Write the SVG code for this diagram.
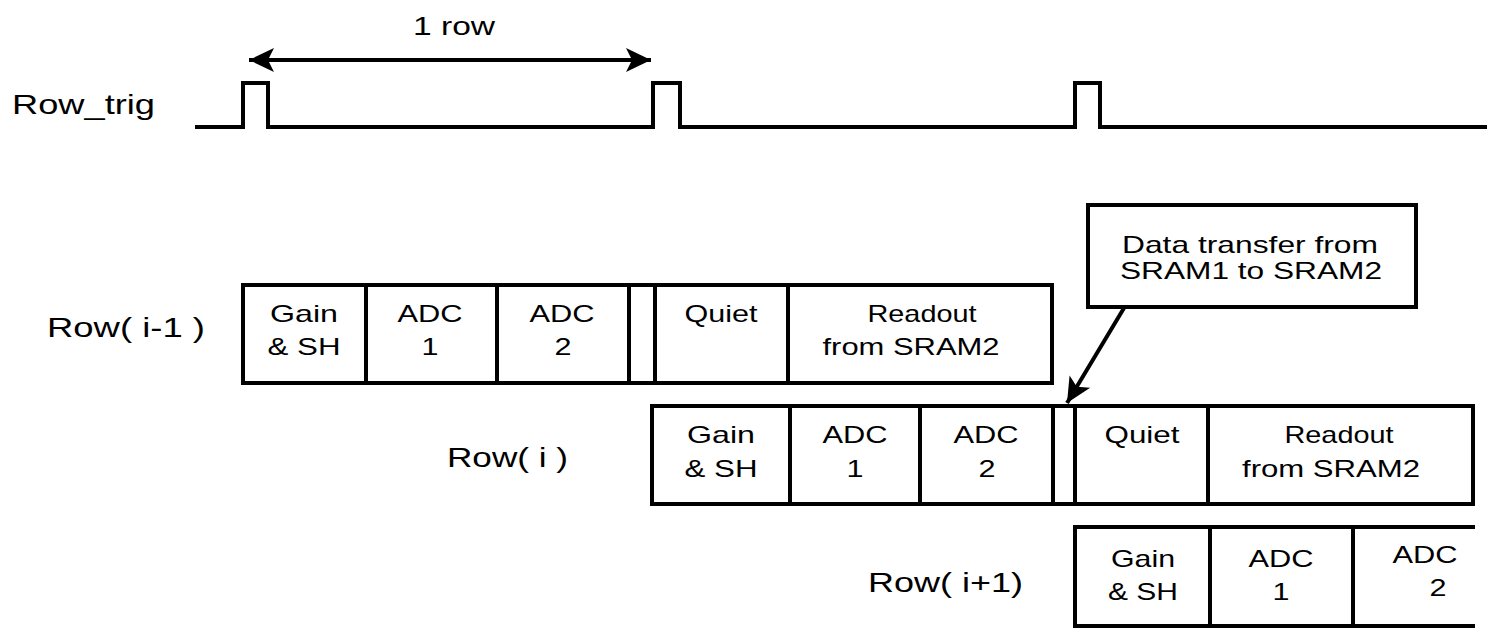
<svg xmlns="http://www.w3.org/2000/svg" width="1495" height="630" viewBox="0 0 1495 630">
<style>
text{font-family:"Liberation Sans",Arial,sans-serif;fill:#000}
.lbl{font-size:28px}
.c{font-size:24px;text-anchor:middle}
.box{fill:#fff;stroke:#000;stroke-width:4;stroke-linejoin:miter}
.ln{fill:none;stroke:#000;stroke-width:4;stroke-linejoin:miter;stroke-linecap:square}
.conn{fill:none;stroke:#000;stroke-width:4}
</style>
<defs>
<marker id="ah" viewBox="0 0 26 26" refX="25" refY="13" markerWidth="26" markerHeight="26" markerUnits="userSpaceOnUse" orient="auto-start-reverse">
<path d="M25,13 L0,1 L6,13 L0,25 Z" fill="#000"/>
</marker>
</defs>
<rect width="1495" height="630" fill="#fff"/>

<g id="row_trig">
<text class="lbl" x="12" y="114" textLength="143" lengthAdjust="spacingAndGlyphs">Row_trig</text>
<path class="ln" d="M197,127 H243 V83 H268 V127 H653 V83 H680 V127 H1075 V83 H1100 V127 H1485"/>
<text x="413" y="35" font-size="25" textLength="82" lengthAdjust="spacingAndGlyphs">1 row</text>
</g>

<g id="row_im1">
<text class="lbl" x="47" y="337" textLength="158" lengthAdjust="spacingAndGlyphs">Row( i-1 )</text>
<rect class="box" x="243" y="285" width="809" height="98"/>
<path class="ln" d="M366,285 V383 M497,285 V383 M629,285 V383 M655,285 V383 M788,285 V383"/>
<text class="c" x="304" y="322" textLength="68" lengthAdjust="spacingAndGlyphs">Gain</text>
<text class="c" x="304" y="355" textLength="73" lengthAdjust="spacingAndGlyphs">&amp; SH</text>
<text class="c" x="430" y="322" textLength="65" lengthAdjust="spacingAndGlyphs">ADC</text>
<text class="c" x="430" y="355" textLength="17" lengthAdjust="spacingAndGlyphs">1</text>
<text class="c" x="562" y="322" textLength="65" lengthAdjust="spacingAndGlyphs">ADC</text>
<text class="c" x="563" y="355" textLength="17" lengthAdjust="spacingAndGlyphs">2</text>
<text class="c" x="721" y="322" textLength="73" lengthAdjust="spacingAndGlyphs">Quiet</text>
<text class="c" x="922" y="322" textLength="109" lengthAdjust="spacingAndGlyphs">Readout</text>
<text class="c" x="911" y="355" textLength="177" lengthAdjust="spacingAndGlyphs">from SRAM2</text>
</g>

<g id="row_i">
<text class="lbl" x="447" y="467" textLength="121" lengthAdjust="spacingAndGlyphs">Row( i )</text>
<rect class="box" x="652" y="406" width="821" height="98"/>
<path class="ln" d="M790,406 V504 M920,406 V504 M1053,406 V504 M1075,406 V504 M1208,406 V504"/>
<text class="c" x="721" y="443" textLength="68" lengthAdjust="spacingAndGlyphs">Gain</text>
<text class="c" x="721" y="477" textLength="73" lengthAdjust="spacingAndGlyphs">&amp; SH</text>
<text class="c" x="855" y="443" textLength="65" lengthAdjust="spacingAndGlyphs">ADC</text>
<text class="c" x="855" y="477" textLength="17" lengthAdjust="spacingAndGlyphs">1</text>
<text class="c" x="986" y="443" textLength="65" lengthAdjust="spacingAndGlyphs">ADC</text>
<text class="c" x="987" y="477" textLength="17" lengthAdjust="spacingAndGlyphs">2</text>
<text class="c" x="1142" y="443" textLength="75" lengthAdjust="spacingAndGlyphs">Quiet</text>
<text class="c" x="1339" y="443" textLength="109" lengthAdjust="spacingAndGlyphs">Readout</text>
<text class="c" x="1331" y="477" textLength="178" lengthAdjust="spacingAndGlyphs">from SRAM2</text>
</g>

<g id="row_ip1">
<text class="lbl" x="868" y="592" textLength="155" lengthAdjust="spacingAndGlyphs">Row( i+1)</text>
<path class="ln" d="M1473,527 H1075 V626 H1473"/>
<path class="ln" d="M1210,527 V626 M1353,527 V626"/>
<text class="c" x="1143" y="567" textLength="64" lengthAdjust="spacingAndGlyphs">Gain</text>
<text class="c" x="1143" y="600" textLength="70" lengthAdjust="spacingAndGlyphs">&amp; SH</text>
<text class="c" x="1281" y="567" textLength="65" lengthAdjust="spacingAndGlyphs">ADC</text>
<text class="c" x="1281" y="600" textLength="17" lengthAdjust="spacingAndGlyphs">1</text>
<text class="c" x="1425" y="563" textLength="65" lengthAdjust="spacingAndGlyphs">ADC</text>
<text class="c" x="1438" y="596" textLength="17" lengthAdjust="spacingAndGlyphs">2</text>
</g>

<g id="callout">
<rect class="box" x="1088" y="205" width="328" height="102"/>
<text class="c" x="1250" y="253" font-size="25" textLength="256" lengthAdjust="spacingAndGlyphs">Data transfer from</text>
<text class="c" x="1251" y="279" font-size="25" textLength="262" lengthAdjust="spacingAndGlyphs">SRAM1 to SRAM2</text>
</g>

<g id="connectors">
<line class="conn" x1="249" y1="60" x2="651" y2="60" marker-start="url(#ah)" marker-end="url(#ah)"/>
<line class="conn" x1="1124" y1="308" x2="1067" y2="403" marker-end="url(#ah)"/>
</g>
</svg>
